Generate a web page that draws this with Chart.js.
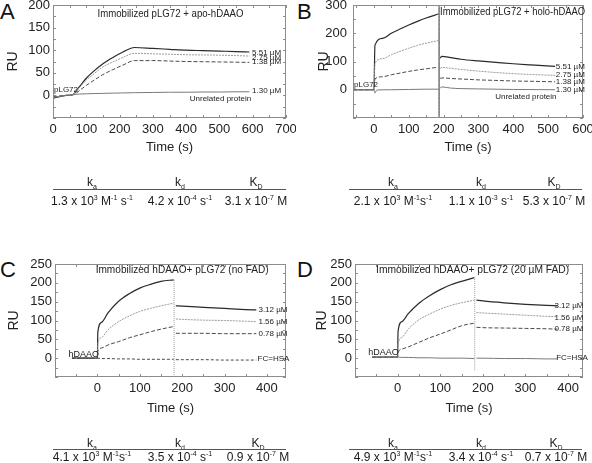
<!DOCTYPE html>
<html>
<head>
<meta charset="utf-8">
<script src="https://cdn.jsdelivr.net/npm/chart.js@4.4.1/dist/chart.umd.min.js"></script>
<style>
  body { margin: 0; width: 592px; height: 463px; background: #fff; position: relative; overflow: hidden;
         font-family: "Liberation Sans", Arial, sans-serif; color: #1a1a1a; }
  canvas { position: absolute; }
  .letter { position: absolute; font-size: 22px; line-height: 22px; color: #111; }
  .cell { position: absolute; width: 120px; margin-left: -60px; text-align: center; font-size: 12px; line-height: 14px;
          white-space: nowrap; color: #1a1a1a; will-change: transform; }
  .rule { position: absolute; height: 0; border-top: 1px solid #555; }
  sup { font-size: 7px; vertical-align: 5px; line-height: 0; }
  sub { font-size: 7px; vertical-align: -3px; line-height: 0; }
</style>
</head>
<body>
<div class="letter" style="left:0;top:1px">A</div>
<div class="letter" style="left:297px;top:1px">B</div>
<div class="letter" style="left:0;top:259px">C</div>
<div class="letter" style="left:297px;top:259px">D</div>

<canvas id="chartA" width="296" height="155" style="left:0;top:0"></canvas>
<canvas id="chartB" width="296" height="155" style="left:296px;top:0"></canvas>
<canvas id="chartC" width="296" height="161" style="left:0;top:255px"></canvas>
<canvas id="chartD" width="296" height="161" style="left:296px;top:255px"></canvas>

<!-- kinetic constants under each panel -->
<div class="cell" style="left:92px;top:175px">k<sub>a</sub></div>
<div class="cell" style="left:180px;top:175px">k<sub>d</sub></div>
<div class="cell" style="left:256px;top:175px">K<sub>D</sub></div>
<div class="rule" style="left:53px;width:233px;top:189px"></div>
<div class="cell" style="left:92px;top:194px">1.3 x 10<sup>3</sup> M<sup>-1</sup> s<sup>-1</sup></div>
<div class="cell" style="left:180px;top:194px">4.2 x 10<sup>-4</sup> s<sup>-1</sup></div>
<div class="cell" style="left:256px;top:194px">3.1 x 10<sup>-7</sup> M</div>

<div class="cell" style="left:393px;top:175px">k<sub>a</sub></div>
<div class="cell" style="left:481px;top:175px">k<sub>d</sub></div>
<div class="cell" style="left:554px;top:175px">K<sub>D</sub></div>
<div class="rule" style="left:349px;width:233px;top:189px"></div>
<div class="cell" style="left:393px;top:194px">2.1 x 10<sup>3</sup> M<sup>-1</sup>s<sup>-1</sup></div>
<div class="cell" style="left:481px;top:194px">1.1 x 10<sup>-3</sup> s<sup>-1</sup></div>
<div class="cell" style="left:554px;top:194px">5.3 x 10<sup>-7</sup> M</div>

<div class="cell" style="left:92px;top:436px">k<sub>a</sub></div>
<div class="cell" style="left:180px;top:436px">k<sub>d</sub></div>
<div class="cell" style="left:258px;top:436px">K<sub>D</sub></div>
<div class="rule" style="left:53px;width:233px;top:449px"></div>
<div class="cell" style="left:92px;top:450px">4.1 x 10<sup>3</sup> M<sup>-1</sup>s<sup>-1</sup></div>
<div class="cell" style="left:180px;top:450px">3.5 x 10<sup>-4</sup> s<sup>-1</sup></div>
<div class="cell" style="left:258px;top:450px">0.9 x 10<sup>-7</sup> M</div>

<div class="cell" style="left:393px;top:436px">k<sub>a</sub></div>
<div class="cell" style="left:481px;top:436px">k<sub>d</sub></div>
<div class="cell" style="left:556px;top:436px">K<sub>D</sub></div>
<div class="rule" style="left:349px;width:233px;top:449px"></div>
<div class="cell" style="left:393px;top:450px">4.9 x 10<sup>3</sup> M<sup>-1</sup>s<sup>-1</sup></div>
<div class="cell" style="left:481px;top:450px">3.4 x 10<sup>-4</sup> s<sup>-1</sup></div>
<div class="cell" style="left:556px;top:450px">0.7 x 10<sup>-7</sup> M</div>

<script>
// ---- Panel A: immobilized pLG72 + apo-hDAAO ----
const timeA      = [0, 20, 40, 60, 80, 100, 120, 150, 180, 210, 245, 300, 350, 400, 450, 500, 550, 590];
const apo551     = [-6, -3, 0, 2, 20, 38, 52, 70, 84, 96, 106, 104, 102, 100, 99, 98, 97, 96];
const apo275     = [-4, -2, 0, 2, 18, 34, 46, 63, 74, 84, 93, 92, 91, 90, 89.5, 89, 88, 87];
const apo138     = [-3, -1, 0, 1, 11, 22, 32, 46, 57, 67, 77, 77, 76, 75, 74.5, 74, 73.5, 73];
const apoUnrel   = [-5, -2, 0, 2, 3, 3.5, 4, 4.5, 5, 5.5, 6, 6.5, 7, 7, 7.5, 7.5, 8, 8];

// ---- Panel B: immobilized pLG72 + holo-hDAAO ----
const timeB      = [-60, 0, 3, 25, 50, 75, 100, 125, 150, 185, 187, 190, 195, 220, 250, 300, 350, 400, 450, 520];
const holo551    = [0, 0, 158, 182, 200, 215, 229, 242, 254, 268, null, 112, 118, 114, 108, 102, 97, 92, 88, 83];
const holo275    = [0, 0, 94, 110, 124, 136, 147, 157, 165, 174, null, 75, 79, 76, 72, 66, 61, 57, 54, 51];
const holo138    = [0, 0, 38, 46, 53, 59, 65, 70, 74, 80, null, 40, 42, 40, 38, 35, 33, 31, 30, 28];
const timeBu     = [-60, 0, 3, 8, 50, 100, 150, 185, 187, 190, 195, 220, 250, 300, 400, 520];
const holoUnrel  = [0, 0, -12, -1, 0, 1, 2, 2, null, 6, 10, 6, 4, 3, 1, 0];
const injectB_t  = [187, 187];
const injectB_y  = [-100, 300];

// ---- Panel C: immobilized hDAAO + pLG72 (no FAD) ----
const timeC      = [-60, 0, 1, 10, 25, 50, 75, 100, 125, 150, 180, 181, 185, 200, 250, 300, 350, 375];
const noFad312   = [0, 0, 68, 95, 120, 151, 171, 186, 196, 204, 208, null, 139, 138, 135, 132, 129, 128];
const noFad156   = [0, 0, 38, 55, 75, 97, 112, 124, 132, 139, 146, null, 104, 103, 101, 100, 98, 97];
const noFad078   = [0, 0, 18, 27, 35, 44, 54, 62, 70, 77, 84, null, 66, 66, 66, 65, 65, 65];
const noFadHSA   = [0, 0, 0, -1, -1, -2, -2, -3, -3, -3, -3, null, -4, -4, -4, -5, -5, -5];
const injectC_t  = [181, 181];
const injectC_y  = [-50, 208];

// ---- Panel D: immobilized hDAAO + pLG72 (20 uM FAD) ----
const timeD      = [-60, 0, 1, 10, 25, 50, 75, 100, 125, 150, 180, 181, 185, 200, 250, 300, 350, 375];
const fad312     = [3, 3, 70, 97, 118, 146, 166, 182, 195, 204, 214, null, 154, 152, 147, 143, 140, 139];
const fad156     = [3, 3, 36, 55, 77, 102, 117, 130, 140, 147, 154, null, 121, 120, 117, 114, 111, 110];
const fad078     = [3, 3, 14, 24, 30, 42, 54, 64, 75, 86, 93, null, 82, 81, 80, 79, 78, 77];
const fadHSA     = [3, 3, 3, 2, 2, 1, 1, 0, 0, 0, -1, null, 0, 0, -1, -1, -2, -2];
const injectD_t  = [181, 181];
const injectD_y  = [-32, 215];

const FONT = '"Liberation Sans", Arial, sans-serif';
const SOLID = '#2a2a2a', DOTTED = '#9a9a9a', DASHED = '#4a4a4a', PLAIN = '#7a7a7a';

const pts = (ts, vs) => ts.map((t, i) => ({ x: t, y: vs[i] }));

function line(ts, vs, color, dash, width) {
    return {
        data: pts(ts, vs),
        borderColor: color,
        borderDash: dash || [],
        borderWidth: width || 1,
        pointRadius: 0,
        cubicInterpolationMode: 'monotone',
        fill: false
    };
}

// Grey frame with inward minor ticks, plus the in-plot labels
const framePlugin = {
    id: 'frame',
    afterDatasetsDraw(chart, args, opts) {
        const { ctx, chartArea: a, scales: { x, y } } = chart;
        ctx.save();
        ctx.strokeStyle = '#8c8c8c';
        ctx.lineWidth = 1;
        ctx.strokeRect(a.left + 0.5, a.top + 0.5, a.width - 1, a.height - 1);
        ctx.beginPath();
        for (let v = Math.ceil(x.min / opts.xMinor) * opts.xMinor; v <= x.max; v += opts.xMinor) {
            const px = Math.round(x.getPixelForValue(v)) + 0.5;
            ctx.moveTo(px, a.bottom); ctx.lineTo(px, a.bottom - 3);
            ctx.moveTo(px, a.top); ctx.lineTo(px, a.top + 3);
        }
        for (let v = Math.ceil(y.min / opts.yMinor) * opts.yMinor; v <= y.max; v += opts.yMinor) {
            const py = Math.round(y.getPixelForValue(v)) + 0.5;
            ctx.moveTo(a.left, py); ctx.lineTo(a.left + 3, py);
            ctx.moveTo(a.right, py); ctx.lineTo(a.right - 3, py);
        }
        ctx.stroke();
        ctx.fillStyle = '#222';
        ctx.textBaseline = 'middle';
        opts.notes.forEach(n => {
            ctx.font = n.size + 'px ' + FONT;
            ctx.textAlign = n.align || 'left';
            const px = x.getPixelForValue(n.x), py = y.getPixelForValue(n.y);
            if (n.fit) ctx.fillText(n.text, px, py, n.fit);
            else ctx.fillText(n.text, px, py);
        });
        ctx.restore();
    }
};

function makePanel(id, cfg) {
    const tickFont = { family: FONT, size: 13 };
    return new Chart(document.getElementById(id), {
        type: 'line',
        data: { datasets: cfg.datasets },
        options: {
            responsive: false,
            animation: false,
            layout: { padding: cfg.padding },
            plugins: {
                legend: { display: false },
                tooltip: { enabled: false },
                frame: { xMinor: cfg.xStep / 2, yMinor: cfg.yStep / 2, notes: cfg.notes }
            },
            scales: {
                x: {
                    type: 'linear', min: cfg.xMin, max: cfg.xMax,
                    grid: { display: false, drawTicks: false }, border: { display: false },
                    ticks: {
                        stepSize: cfg.xStep, autoSkip: false, maxRotation: 0, padding: 4,
                        includeBounds: false, font: tickFont, color: '#222',
                        callback: v => (v >= cfg.xFirst) ? v : ''
                    },
                    title: { display: true, text: 'Time (s)', font: { family: FONT, size: 13 }, color: '#222', padding: 0 },
                    afterFit: s => { s.height = cfg.xHeight; s.paddingLeft = 0; s.paddingRight = 0; }
                },
                y: {
                    min: cfg.yMin, max: cfg.yMax,
                    grid: { display: false, drawTicks: false }, border: { display: false },
                    ticks: {
                        stepSize: cfg.yStep, autoSkip: false, padding: cfg.yPad,
                        includeBounds: false, font: tickFont, color: '#222',
                        callback: v => (v > cfg.yMin) ? v : ''
                    },
                    title: { display: true, text: 'RU', font: { family: FONT, size: 14 }, color: '#222', padding: { top: cfg.ruPad } },
                    afterFit: s => { s.width = cfg.yWidth; s.paddingTop = 0; s.paddingBottom = 0; }
                }
            }
        },
        plugins: [framePlugin]
    });
}

makePanel('chartA', {
    padding: { top: 5, right: 10, left: 0, bottom: 0 },
    xMin: 0, xMax: 700, xStep: 100, xFirst: 0, xHeight: 37,
    yMin: -50, yMax: 200, yStep: 50, yWidth: 53, yPad: 3, ruPad: 5,
    datasets: [
        line(timeA, apoUnrel, PLAIN),
        line(timeA, apo138, DASHED, [4, 2]),
        line(timeA, apo275, DOTTED, [2, 1]),
        line(timeA, apo551, SOLID, [], 1.2)
    ],
    notes: [
        { text: 'Immobilized pLG72 + apo-hDAAO', x: 353, y: 181, size: 11, align: 'center', fit: 146 },
        { text: 'pLG72', x: 3, y: 12, size: 8 },
        { text: '5.51 \u00b5M', x: 598, y: 95, size: 8 },
        { text: '2.75 \u00b5M', x: 598, y: 84, size: 8 },
        { text: '1.38 \u00b5M', x: 598, y: 74, size: 8 },
        { text: '1.30 \u00b5M', x: 598, y: 11, size: 8 },
        { text: 'Unrelated protein', x: 503, y: -7, size: 8, align: 'center' }
    ]
});

makePanel('chartB', {
    padding: { top: 5, right: 9, left: 0, bottom: 0 },
    xMin: -60, xMax: 600, xStep: 100, xFirst: 0, xHeight: 37,
    yMin: -100, yMax: 300, yStep: 100, yWidth: 57, yPad: 6, ruPad: 20,
    datasets: [
        line(injectB_t, injectB_y, SOLID),
        line(timeBu, holoUnrel, PLAIN),
        line(timeB, holo138, DASHED, [4, 2]),
        line(timeB, holo275, DOTTED, [2, 1]),
        line(timeB, holo551, SOLID, [], 1.2)
    ],
    notes: [
        { text: 'Immobilized pLG72 + holo-hDAAO', x: 190, y: 277, size: 11, align: 'left', fit: 145 },
        { text: 'pLG72', x: -57, y: 18, size: 8 },
        { text: '5.51 \u00b5M', x: 522, y: 82, size: 8 },
        { text: '2.75 \u00b5M', x: 522, y: 52, size: 8 },
        { text: '1.38 \u00b5M', x: 522, y: 28, size: 8 },
        { text: '1.30 \u00b5M', x: 522, y: 1, size: 8 },
        { text: 'Unrelated protein', x: 436, y: -26, size: 8, align: 'center' }
    ]
});

makePanel('chartC', {
    padding: { top: 9, right: 10, left: 0, bottom: 0 },
    xMin: -100, xMax: 445, xStep: 100, xFirst: 0, xHeight: 39,
    yMin: -50, yMax: 250, yStep: 50, yWidth: 55, yPad: 3, ruPad: 6,
    datasets: [
        line(injectC_t, injectC_y, DOTTED, [1, 1]),
        line(timeC, noFadHSA, DASHED, [3, 2]),
        line(timeC, noFad078, DASHED, [4, 2]),
        line(timeC, noFad156, DOTTED, [2, 1]),
        line(timeC, noFad312, SOLID, [], 1.2)
    ],
    notes: [
        { text: 'Immobilized hDAAO+ pLG72 (no FAD)', x: 200, y: 235, size: 11.5, align: 'center', fit: 173 },
        { text: 'hDAAO', x: -68, y: 11, size: 9 },
        { text: '3.12 \u00b5M', x: 380, y: 128, size: 8 },
        { text: '1.56 \u00b5M', x: 380, y: 97, size: 8 },
        { text: '0.78 \u00b5M', x: 380, y: 66, size: 8 },
        { text: 'FC=HSA', x: 378, y: -3, size: 8 }
    ]
});

makePanel('chartD', {
    padding: { top: 9, right: 9, left: 0, bottom: 0 },
    xMin: -100, xMax: 435, xStep: 100, xFirst: 0, xHeight: 39,
    yMin: -50, yMax: 250, yStep: 50, yWidth: 59, yPad: 3, ruPad: 18,
    datasets: [
        line(injectD_t, injectD_y, DOTTED, [1, 1]),
        line(timeD, fadHSA, PLAIN),
        line(timeD, fad078, DASHED, [4, 2]),
        line(timeD, fad156, DOTTED, [2, 1]),
        line(timeD, fad312, SOLID, [], 1.2)
    ],
    notes: [
        { text: 'Immobilized hDAAO+ pLG72 (20 \u00b5M FAD)', x: 176, y: 235, size: 11.5, align: 'center', fit: 193 },
        { text: 'hDAAO', x: -69, y: 15, size: 9 },
        { text: '3.12 \u00b5M', x: 368, y: 140, size: 8 },
        { text: '1.56 \u00b5M', x: 368, y: 108, size: 8 },
        { text: '0.78 \u00b5M', x: 368, y: 77, size: 8 },
        { text: 'FC=HSA', x: 372, y: 0, size: 8 }
    ]
});
</script>
</body>
</html>
